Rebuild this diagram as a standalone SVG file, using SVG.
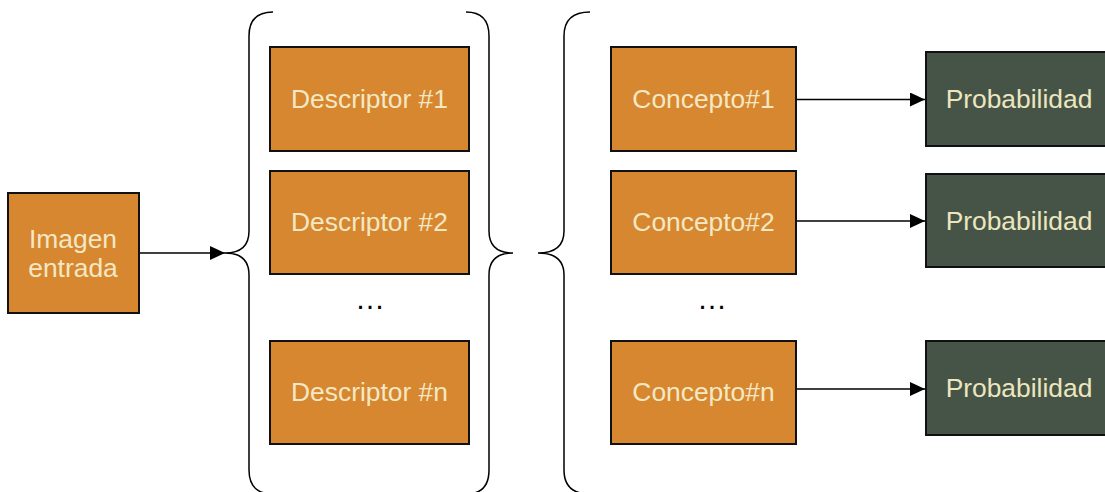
<svg xmlns="http://www.w3.org/2000/svg" width="1105" height="492" viewBox="0 0 1105 492">
<style>
.o{fill:#d6872f;stroke:#111;stroke-width:2}
.g{fill:#465447;stroke:#111;stroke-width:2}
.t{font-family:"Liberation Sans",Arial,sans-serif;font-size:26.4px;fill:#f4e8c4;text-anchor:middle}
.tg{font-family:"Liberation Sans",Arial,sans-serif;font-size:26.4px;fill:#ece6bf;text-anchor:middle}
.dots{font-family:"Liberation Sans",Arial,sans-serif;font-size:30px;fill:#000;text-anchor:middle}
.c{fill:none;stroke:#000;stroke-width:1.5}
.b{fill:none;stroke:#000;stroke-width:1.5}
</style>
<defs>
<marker id="ah" markerWidth="16" markerHeight="14" refX="15" refY="7" orient="auto" markerUnits="userSpaceOnUse">
<path d="M0,0 L15,7 L0,14 Z" fill="#000"/>
</marker>
</defs>
<rect width="1105" height="492" fill="#fff"/>
<g id="connectors">
<line class="c" x1="139" y1="253" x2="225" y2="253" marker-end="url(#ah)"/>
<line class="c" x1="796" y1="99.5" x2="925" y2="99.5" marker-end="url(#ah)"/>
<line class="c" x1="796" y1="221" x2="925" y2="221" marker-end="url(#ah)"/>
<line class="c" x1="796" y1="389" x2="925" y2="389" marker-end="url(#ah)"/>
</g>
<g id="braces">
<path class="b" d="M273 12 Q249 12 249 36 L249 231 Q249 253 225 253 Q249 253 249 275 L249 470 Q249 494 273 494"/>
<path class="b" d="M466 12 Q489 12 489 36 L489 231 Q489 253 513 253 Q489 253 489 275 L489 470 Q489 494 466 494"/>
<path class="b" d="M590 12 Q564 12 564 36 L564 231 Q564 253 538 253 Q564 253 564 275 L564 470 Q564 494 590 494"/>
</g>
<g id="imagen">
<rect class="o" x="8" y="193" width="131" height="120"/>
<text class="t" x="73" y="248">Imagen</text>
<text class="t" x="73" y="277">entrada</text>
</g>
<g id="desc1">
<rect class="o" x="270" y="47" width="199" height="104"/>
<text class="t" x="369.5" y="108">Descriptor #1</text>
</g>
<g id="desc2">
<rect class="o" x="270" y="171" width="199" height="103"/>
<text class="t" x="369.5" y="231">Descriptor #2</text>
</g>
<text class="dots" x="370" y="309">…</text>
<g id="descn">
<rect class="o" x="270" y="341" width="199" height="103"/>
<text class="t" x="369.5" y="401">Descriptor #n</text>
</g>
<g id="conc1">
<rect class="o" x="611" y="47" width="185" height="104"/>
<text class="t" x="703.5" y="108">Concepto#1</text>
</g>
<g id="conc2">
<rect class="o" x="611" y="171" width="185" height="103"/>
<text class="t" x="703.5" y="231">Concepto#2</text>
</g>
<text class="dots" x="712" y="309">…</text>
<g id="concn">
<rect class="o" x="611" y="341" width="185" height="103"/>
<text class="t" x="703.5" y="401">Concepto#n</text>
</g>
<g id="prob1">
<rect class="g" x="926" y="52" width="190" height="94"/>
<text class="tg" x="1019" y="108">Probabilidad</text>
</g>
<g id="prob2">
<rect class="g" x="926" y="174" width="190" height="93"/>
<text class="tg" x="1019" y="230">Probabilidad</text>
</g>
<g id="probn">
<rect class="g" x="926" y="341" width="190" height="94"/>
<text class="tg" x="1019" y="397">Probabilidad</text>
</g>
</svg>
